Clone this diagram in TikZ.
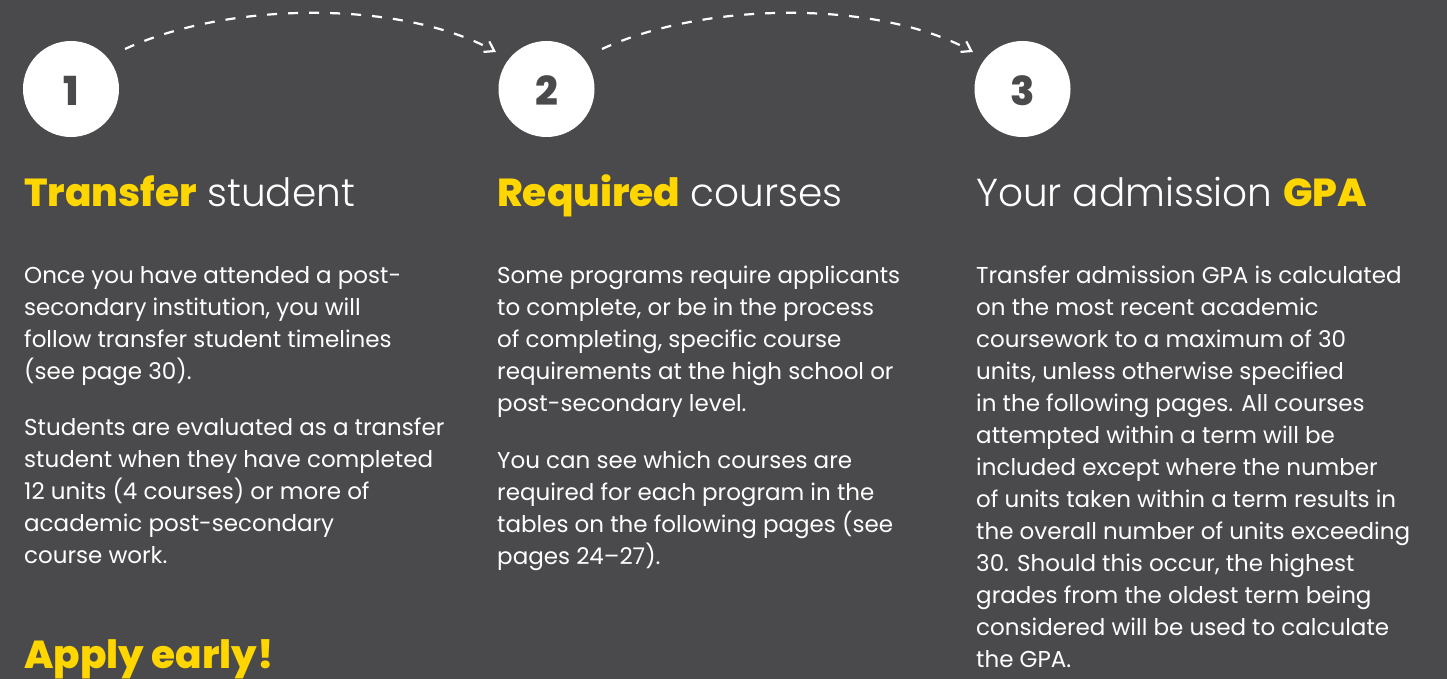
\documentclass[tikz,border=0pt]{standalone}
\usepackage{fontspec}
\usetikzlibrary{arrows.meta}
\setmainfont{Poppins}
\newfontfamily\bodyfont{Poppins}
\IfFontExistsTF{Poppins Light}{\newfontfamily\lightfont{Poppins Light}}{\newfontfamily\lightfont{Poppins}}
\IfFontExistsTF{Poppins ExtraBold}{\newfontfamily\heavyfont{Poppins ExtraBold}}{\newfontfamily\heavyfont{Poppins}[UprightFont=*-Bold]}
\definecolor{bg}{HTML}{4A4A4C}
\definecolor{ylw}{HTML}{FFD600}
\tikzset{
  numcircle/.style={circle, fill=white, minimum size=96bp, inner sep=0pt},
  numtext/.style={text=bg, font=\heavyfont\fontsize{40bp}{40bp}\selectfont, inner sep=0pt, anchor=base},
  headtext/.style={text=white, font=\lightfont\fontsize{39bp}{39bp}\selectfont, inner sep=0pt, anchor=base west},
  bodytext/.style={text=white, font=\bodyfont\fontsize{23bp}{32bp}\selectfont, inner sep=0pt, anchor=base west, align=left},
  flow/.style={white, line width=2.2bp, dash pattern=on 10bp off 11bp, -{Straight Barb[length=9bp,width=12bp,line width=2.2bp]}},
}
\newcommand{\hl}[1]{{\heavyfont\color{ylw}#1}}
\begin{document}
\begin{tikzpicture}[x=1bp, y=-1bp]
\fill[bg] (0,0) rectangle (1447,679);
\useasboundingbox (0,0) rectangle (1447,679);
% circles
\node[numcircle] (c1) at (71,89) {};
\node[numcircle] (c2) at (546.5,89) {};
\node[numcircle] (c3) at (1022.5,89) {};
\node[numtext] (n1) at (71,106) {1};
\node[numtext] (n2) at (546.5,106) {2};
\node[numtext] (n3) at (1022.5,106) {3};
% connectors
\coordinate (a1s) at (125,49);
\coordinate (a1e) at (496,52);
\coordinate (a2s) at (602,49);
\coordinate (a2e) at (973,52);
\draw[flow] (a1s) .. controls (230,0.5) and (403,0.5) .. (a1e);
\draw[flow] (a2s) .. controls (707,0.5) and (880,0.5) .. (a2e);
% headings
\node[headtext] (h1) at (24,206) {\hl{Transfer} student};
\node[headtext] (h2) at (497,206) {\hl{Required} courses};
\node[headtext] (h3) at (976,206) {Your admission \hl{GPA}};
% column 1 (base anchor = last line)
\node[bodytext] (p11) at (24,379.3) {Once you have attended a post-\\secondary institution, you will\\follow transfer student timelines\\(see page 30).};
\node[bodytext] (p12) at (24,563.7) {Students are evaluated as a transfer\\student when they have completed\\12 units (4 courses) or more of\\academic post-secondary\\course work.};
\node[headtext] (apply) at (24,668) {\hl{Apply early!}};
% column 2
\node[bodytext] (p21) at (497,411.3) {Some programs require applicants\\to complete, or be in the process\\of completing, specific course\\requirements at the high school or\\post-secondary level.};
\node[bodytext] (p22) at (497,564.3) {You can see which courses are\\required for each program in the\\tables on the following pages (see\\pages 24–27).};
% column 3
\node[bodytext] (p31) at (976,667.3) {Transfer admission GPA is calculated\\on the most recent academic\\coursework to a maximum of 30\\units, unless otherwise specified\\in the following pages. All courses\\attempted within a term will be\\included except where the number\\of units taken within a term results in\\the overall number of units exceeding\\30. Should this occur, the highest\\grades from the oldest term being\\considered will be used to calculate\\the GPA.};
\end{tikzpicture}
\end{document}
